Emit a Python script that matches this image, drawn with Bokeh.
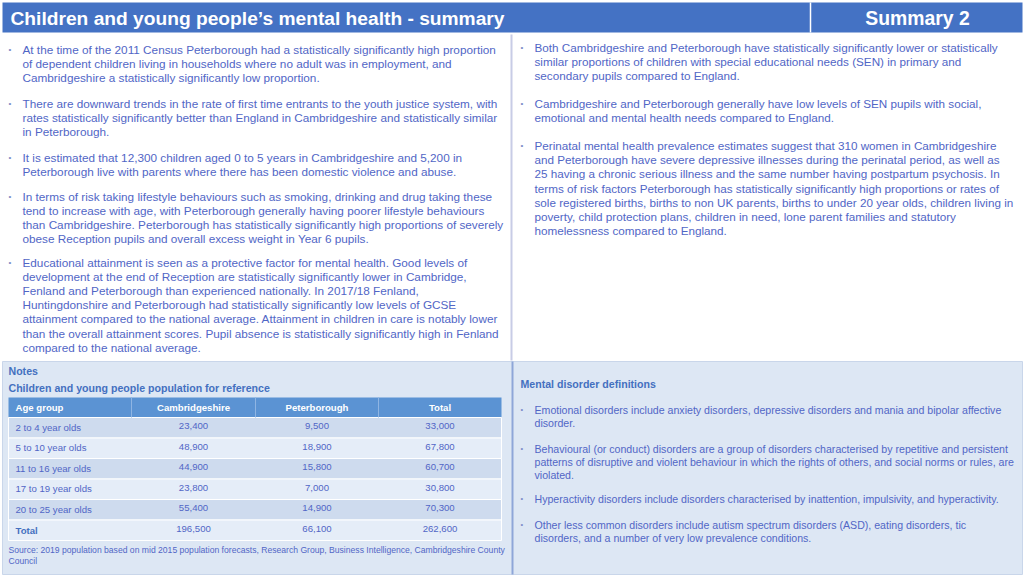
from bokeh.plotting import figure
from bokeh.models import Range1d
from bokeh.core.properties import value
from bokeh.embed import file_html
from bokeh.resources import INLINE

# ---------------- data ----------------
title = "Children and young people\u2019s mental health - summary"
subtitle = "Summary 2"

left_bullets = [
    ["At the time of the 2011 Census Peterborough had a statistically significantly high proportion",
     "of dependent children living in households where no adult was in employment, and",
     "Cambridgeshire a statistically significantly low proportion."],
    ["There are downward trends in the rate of first time entrants to the youth justice system, with",
     "rates statistically significantly better than England in Cambridgeshire and statistically similar",
     "in Peterborough."],
    ["It is estimated that 12,300 children aged 0 to 5 years in Cambridgeshire and 5,200 in",
     "Peterborough live with parents where there has been domestic violence and abuse."],
    ["In terms of risk taking lifestyle behaviours such as smoking, drinking and drug taking these",
     "tend to increase with age, with Peterborough generally having poorer lifestyle behaviours",
     "than Cambridgeshire. Peterborough has statistically significantly high proportions of severely",
     "obese Reception pupils and overall excess weight in Year 6 pupils."],
    ["Educational attainment is seen as a protective factor for mental health. Good levels of",
     "development at the end of Reception are statistically significantly lower in Cambridge,",
     "Fenland and Peterborough than experienced nationally.  In 2017/18 Fenland,",
     "Huntingdonshire and Peterborough had statistically significantly low levels of GCSE",
     "attainment compared to the national average.  Attainment in children in care is notably lower",
     "than the overall attainment scores.  Pupil absence is statistically significantly high in Fenland",
     "compared to the national average."],
]

right_bullets = [
    ["Both Cambridgeshire and Peterborough have statistically significantly lower or statistically",
     "similar proportions of children with special educational needs (SEN) in primary and",
     "secondary pupils compared to England."],
    ["Cambridgeshire and Peterborough generally have low levels of SEN pupils with social,",
     "emotional and mental health needs compared to England."],
    ["Perinatal mental health prevalence estimates suggest that 310 women in Cambridgeshire",
     "and Peterborough have severe depressive illnesses during the perinatal period, as well as",
     "25 having a chronic serious illness and the same number having postpartum psychosis. In",
     "terms of risk factors Peterborough has statistically significantly high proportions or rates of",
     "sole registered births, births to non UK parents, births to under 20 year olds, children living in",
     "poverty, child protection plans, children in need, lone parent families and statutory",
     "homelessness compared to England."],
]

definitions = [
    ["Emotional disorders include anxiety disorders, depressive disorders and mania and bipolar affective",
     "disorder."],
    ["Behavioural (or conduct) disorders are a group of disorders characterised by repetitive and persistent",
     "patterns of disruptive and violent behaviour in which the rights of others, and social norms or rules, are",
     "violated."],
    ["Hyperactivity disorders include disorders characterised by inattention, impulsivity, and hyperactivity."],
    ["Other less common disorders include autism spectrum disorders (ASD), eating disorders, tic",
     "disorders, and a number of very low prevalence conditions."],
]

table_columns = ["Age group", "Cambridgeshire", "Peterborough", "Total"]
age_groups = ["2 to 4 year olds", "5 to 10 year olds", "11 to 16 year olds",
              "17 to 19 year olds", "20 to 25 year olds", "Total"]
cambridgeshire = [23400, 48900, 44900, 23800, 55400, 196500]
peterborough = [9500, 18900, 15800, 7000, 14900, 66100]
totals = [33000, 67800, 60700, 30800, 70300, 262600]

notes_heading = "Notes"
table_heading = "Children and young people population for reference"
definitions_heading = "Mental disorder definitions"
source_lines = ["Source: 2019 population based on mid 2015 population forecasts, Research Group, Business Intelligence, Cambridgeshire County",
                "Council"]

# ---------------- styles ----------------
FONT = value("Liberation Sans")
BAR = "#4472c4"
TXT = "#5166c6"
BUL = "#7d8cc8"
HEAD = "#4470c0"
BOTTOM_BG = "#dde7f4"
TH_BG = "#5b93d3"
ROW_DARK = "#cedbee"
ROW_LIGHT = "#e5edf8"

p = figure(width=1024, height=576, output_backend="svg", toolbar_location=None,
           x_range=Range1d(0, 1024), y_range=Range1d(576, 0), min_border=0)
p.axis.visible = False
p.grid.visible = False
p.outline_line_color = None
p.background_fill_color = "white"
p.border_fill_color = "white"

# title bar
p.quad(left=[2], right=[1022], top=[2], bottom=[32], fill_color=BAR, line_color=None)
p.segment(x0=[810], y0=[2], x1=[810], y1=[32], line_color="white", line_width=1.5)
p.text(x=[10], y=[17.5], text=[title], text_font=FONT, text_font_size="19.2px",
       text_font_style="bold", text_color="white", text_baseline="middle")
p.text(x=[917], y=[17.5], text=[subtitle], text_font=FONT, text_font_size="19.4px",
       text_font_style="bold", text_color="white", text_baseline="middle", text_align="center")

# top divider
p.segment(x0=[511], y0=[34], x1=[511], y1=[360], line_color="#c8cce6", line_width=2)

# bottom panel
p.quad(left=[2], right=[1022], top=[361], bottom=[574], fill_color=BOTTOM_BG, line_color="#c9d6ea")
p.segment(x0=[512], y0=[361], x1=[512], y1=[574], line_color="#8ea6d8", line_width=2)


def draw_bullets(groups, starts, bx, tx, lh, size, bsize):
    xs, ys, ts, bxs, bys = [], [], [], [], []
    for g, y0 in zip(groups, starts):
        bxs.append(bx)
        bys.append(y0)
        for i, line in enumerate(g):
            xs.append(tx)
            ys.append(y0 + i * lh)
            ts.append(line)
    p.text(x=xs, y=ys, text=ts, text_font=FONT, text_font_size=size,
           text_color=TXT, text_baseline="middle")
    p.text(x=bxs, y=bys, text=["\u2022"] * len(bxs), text_font=FONT, text_font_size=bsize,
           text_color=BUL, text_baseline="middle")


draw_bullets(left_bullets, [48.5, 102.5, 156.5, 195.5, 262], 8, 22, 14.1, "11.75px", "8px")
draw_bullets(right_bullets, [47, 103, 145], 520, 534, 14.2, "11.7px", "8px")
draw_bullets(definitions, [409, 448, 498, 524], 520, 534, 13.1, "10.6px", "7.5px")

# bottom headings
p.text(x=[8], y=[370], text=[notes_heading], text_font=FONT, text_font_size="10.6px",
       text_font_style="bold", text_color=HEAD, text_baseline="middle")
p.text(x=[8], y=[387], text=[table_heading], text_font=FONT, text_font_size="10.6px",
       text_font_style="bold", text_color=HEAD, text_baseline="middle")
p.text(x=[520], y=[383], text=[definitions_heading], text_font=FONT, text_font_size="10.6px",
       text_font_style="bold", text_color=HEAD, text_baseline="middle")

# table
col_edges = [8, 131, 255, 378, 501]
head_top, head_bot = 397, 417
row_h = 20.5
p.quad(left=[col_edges[0]], right=[col_edges[-1]], top=[head_top], bottom=[head_bot],
       fill_color=TH_BG, line_color=None)
n = len(age_groups)
p.quad(left=[col_edges[0]] * n, right=[col_edges[-1]] * n,
       top=[head_bot + i * row_h for i in range(n)],
       bottom=[head_bot + (i + 1) * row_h for i in range(n)],
       fill_color=[ROW_DARK if i % 2 == 0 else ROW_LIGHT for i in range(n)],
       line_color="white", line_width=1)
p.segment(x0=col_edges[1:-1], y0=[head_top] * 3, x1=col_edges[1:-1], y1=[head_bot] * 3,
          line_color="#8fb5e3", line_width=1)
centers = [(col_edges[i] + col_edges[i + 1]) / 2 for i in range(4)]
p.text(x=[15], y=[407], text=[table_columns[0]], text_font=FONT, text_font_size="9.6px",
       text_font_style="bold", text_color="white", text_baseline="middle")
p.text(x=centers[1:], y=[407] * 3, text=table_columns[1:], text_font=FONT, text_font_size="9.6px",
       text_font_style="bold", text_color="white", text_baseline="middle", text_align="center")

row_y = [head_bot + (i + 0.5) * row_h - 0.5 for i in range(n)]
p.text(x=[15] * (n - 1), y=row_y[:-1], text=age_groups[:-1], text_font=FONT, text_font_size="9.6px",
       text_color=TXT, text_baseline="middle")
p.text(x=[15], y=[row_y[-1] + 0.5], text=[age_groups[-1]], text_font=FONT, text_font_size="9.6px",
       text_font_style="bold", text_color=HEAD, text_baseline="middle")
for ci, vals in zip([1, 2, 3], [cambridgeshire, peterborough, totals]):
    p.text(x=[centers[ci]] * n, y=[yy - 1 for yy in row_y], text=[f"{v:,}" for v in vals],
           text_font=FONT, text_font_size="9.6px", text_color=TXT,
           text_baseline="middle", text_align="center")

p.text(x=[8, 8], y=[549, 560], text=source_lines, text_font=FONT, text_font_size="8.6px",
       text_color=TXT, text_baseline="middle")

open("out.html", "w").write(file_html(p, INLINE))
